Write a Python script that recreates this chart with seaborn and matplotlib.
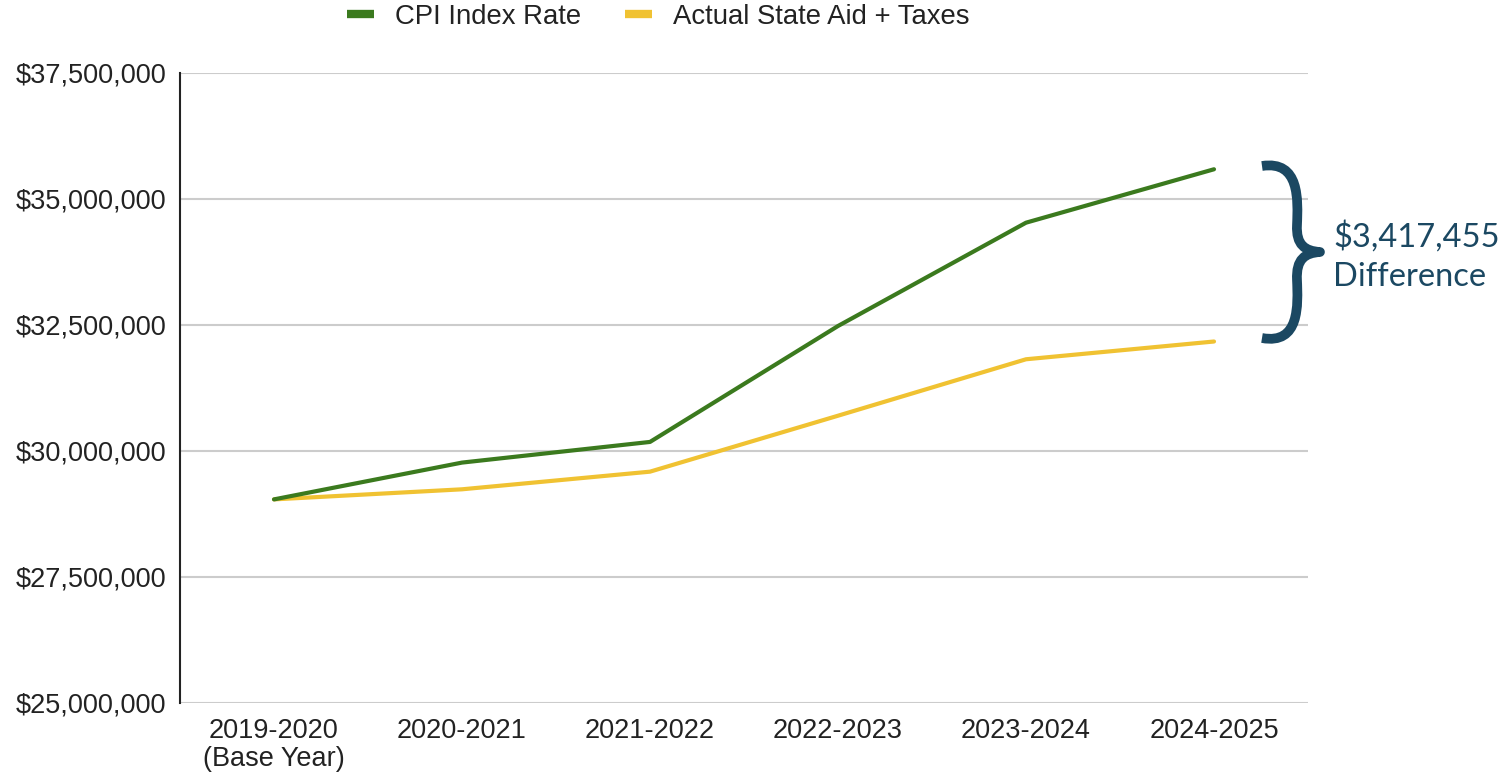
import matplotlib
matplotlib.use("Agg")
import matplotlib.pyplot as plt
from matplotlib.path import Path
from matplotlib.patches import PathPatch
from matplotlib.lines import Line2D
import seaborn as sns
import pandas as pd

years = ["2019-2020\n(Base Year)", "2020-2021", "2021-2022", "2022-2023", "2023-2024", "2024-2025"]
cpi_index = [29040000, 29770000, 30180000, 32480000, 34530000, 35590000]
actual_aid = [29040000, 29240000, 29590000, 30700000, 31820000, 32172545]
series_names = ["CPI Index Rate", "Actual State Aid + Taxes"]
y_ticks = [25000000, 27500000, 30000000, 32500000, 35000000, 37500000]
diff_label = "$3,417,455\nDifference"

green = "#3b7a1e"
yellow = "#f0c232"
navy = "#1b4862"

sns.set_theme(style="white")
plt.rcParams["font.family"] = ["Liberation Sans", "DejaVu Sans"]

df = pd.DataFrame({
    "year": years * 2,
    "pos": list(range(len(years))) * 2,
    "value": cpi_index + actual_aid,
    "series": [series_names[0]] * len(years) + [series_names[1]] * len(years),
})

fig = plt.figure(figsize=(15.06, 7.73), dpi=100)
ax = fig.add_axes([180 / 1506, 1 - 703 / 773, (1308 - 180) / 1506, (703 - 73) / 773])

sns.lineplot(data=df, x="pos", y="value", hue="series", hue_order=series_names[::-1],
             palette={series_names[0]: green, series_names[1]: yellow},
             linewidth=3.0, ax=ax, legend=False, sort=False)

ax.set_xlim(-0.5, len(years) - 0.5)
ax.set_ylim(y_ticks[0], y_ticks[-1])
ax.set_yticks(y_ticks)
ax.set_yticklabels([f"${v:,.0f}" for v in y_ticks])
ax.set_xticks(range(len(years)))
ax.set_xticklabels(years, linespacing=1.1)
ax.set_xlabel("")
ax.set_ylabel("")
ax.grid(axis="y", color="#cccccc", linewidth=1.5)
ax.grid(axis="x", visible=False)
ax.set_axisbelow(True)
for s in ["top", "right", "bottom"]:
    ax.spines[s].set_visible(False)
ax.spines["left"].set_color("#222222")
ax.spines["left"].set_linewidth(1.5)
ax.tick_params(axis="both", length=0, labelsize=19.5, colors="#222222")
ax.tick_params(axis="y", pad=10)
ax.tick_params(axis="x", pad=11)

handles = [Line2D([0], [0], color=green, linewidth=6, solid_capstyle="butt"),
           Line2D([0], [0], color=yellow, linewidth=6, solid_capstyle="butt")]
fig.legend(handles, series_names, loc="center", bbox_to_anchor=(658 / 1506, 1 - 17 / 773),
           ncol=2, frameon=False, fontsize=19.8, handlelength=1.0, handletextpad=0.75,
           columnspacing=1.6, labelcolor="#222222")

# curly brace (decoration) in figure pixel coordinates
def P(x, y):
    return (x / 1506, 1 - y / 773)

verts = [P(1262, 166),
         P(1300, 160), P(1298, 200), P(1297, 225),
         P(1296, 245), P(1305, 251), P(1320, 252),
         P(1305, 253), P(1296, 259), P(1297, 280),
         P(1298, 305), P(1300, 345), P(1262, 338)]
codes = [Path.MOVETO] + [Path.CURVE4] * 12
brace = PathPatch(Path(verts, codes), transform=fig.transFigure, fill=False,
                  edgecolor=navy, linewidth=7, capstyle="butt", joinstyle="round")
fig.patches.append(brace)

fig.text(1333 / 1506, 1 - 256 / 773, diff_label, ha="left", va="center",
         fontsize=23.5, color=navy, family=["Lato", "DejaVu Sans"], linespacing=1.4)

fig.savefig("out.png", dpi=100)
